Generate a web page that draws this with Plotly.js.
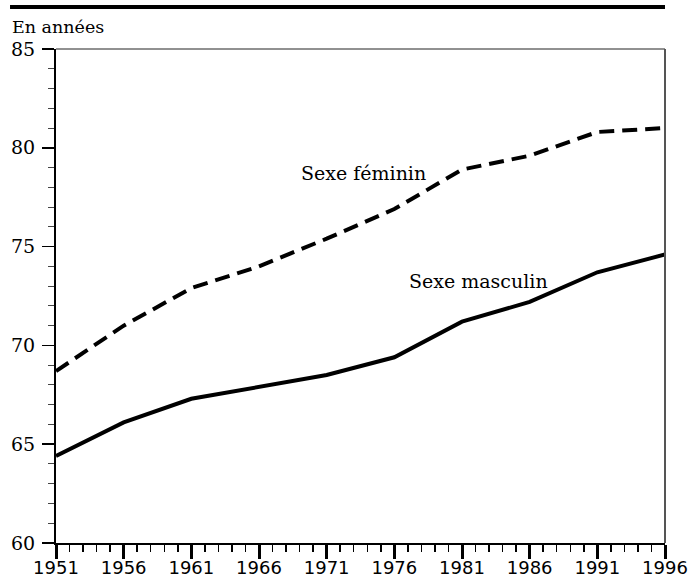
<!DOCTYPE html>
<html>
<head>
<meta charset="utf-8">
<script src="https://cdn.plot.ly/plotly-3.0.1.min.js"></script>
<style>html,body{margin:0;padding:0;background:#fff;}#chart{width:690px;height:580px;}</style>
</head>
<body>
<div id="chart"></div>
<script>
const years = [1951, 1956, 1961, 1966, 1971, 1976, 1981, 1986, 1991, 1996];
const feminin = [68.7, 71.0, 72.9, 74.0, 75.4, 76.9, 78.9, 79.6, 80.8, 81.0];
const masculin = [64.4, 66.1, 67.3, 67.9, 68.5, 69.4, 71.2, 72.2, 73.7, 74.6];
const labelFem = "Sexe féminin";
const labelMasc = "Sexe masculin";
const unitLabel = "En années";

const serif = "DejaVu Serif, Liberation Serif, serif";
const sans = "DejaVu Sans, sans-serif";

const traces = [
  {x: years, y: feminin, mode: "lines", name: labelFem,
   line: {color: "#000", width: 4, dash: "15px,8px"}, hoverinfo: "skip"},
  {x: years, y: masculin, mode: "lines", name: labelMasc,
   line: {color: "#000", width: 4}, hoverinfo: "skip"}
];

const layout = {
  width: 690, height: 580,
  margin: {l: 56, r: 25, t: 49, b: 37, pad: 0},
  paper_bgcolor: "#fff", plot_bgcolor: "#fff",
  showlegend: false,
  xaxis: {
    range: [1951, 1996], tickvals: years, ticktext: years.map(String),
    showgrid: false, zeroline: false, showline: true, linecolor: "#000", linewidth: 2,
    ticks: "outside", ticklen: 14, tickwidth: 3, tickcolor: "#000",
    ticklabelstandoff: -7,
    minor: {dtick: 1, tick0: 1951, ticks: "outside", ticklen: 7, tickwidth: 1.5, tickcolor: "#000", showgrid: false},
    tickfont: {family: sans, size: 18, color: "#000"}
  },
  yaxis: {
    range: [60, 85], tickvals: [60, 65, 70, 75, 80, 85],
    showgrid: false, zeroline: false, showline: true, linecolor: "#000", linewidth: 2,
    ticks: "outside", ticklen: 12, tickwidth: 1.5, tickcolor: "#000",
    ticklabelstandoff: 3,
    minor: {dtick: 1, tick0: 60, ticks: "outside", ticklen: 6, tickwidth: 1, tickcolor: "#444", showgrid: false},
    tickfont: {family: serif, size: 19, color: "#000"}
  },
  shapes: [
    {type: "rect", xref: "paper", yref: "paper", x0: -0.0755, x1: 1.0, y0: 1.081, y1: 1.089,
     fillcolor: "#000", line: {width: 0}},
    {type: "line", xref: "paper", yref: "paper", x0: 0, x1: 1, y0: 1, y1: 1,
     line: {color: "#222", width: 1}},
    {type: "line", xref: "paper", yref: "paper", x0: 1, x1: 1, y0: 0, y1: 1,
     line: {color: "#555", width: 2}}
  ],
  annotations: [
    {text: unitLabel, xref: "paper", yref: "paper", x: -0.0755, y: 1.0445,
     xanchor: "left", yanchor: "middle", showarrow: false,
     font: {family: serif, size: 17.5, color: "#000"}},
    {text: labelFem, xref: "x", yref: "y", x: 1973.7, y: 78.73,
     xanchor: "center", yanchor: "middle", showarrow: false,
     font: {family: serif, size: 19, color: "#000"}},
    {text: labelMasc, xref: "x", yref: "y", x: 1982.2, y: 73.26,
     xanchor: "center", yanchor: "middle", showarrow: false,
     font: {family: serif, size: 19, color: "#000"}}
  ]
};

Plotly.newPlot("chart", traces, layout, {staticPlot: true, displayModeBar: false});
</script>
</body>
</html>
